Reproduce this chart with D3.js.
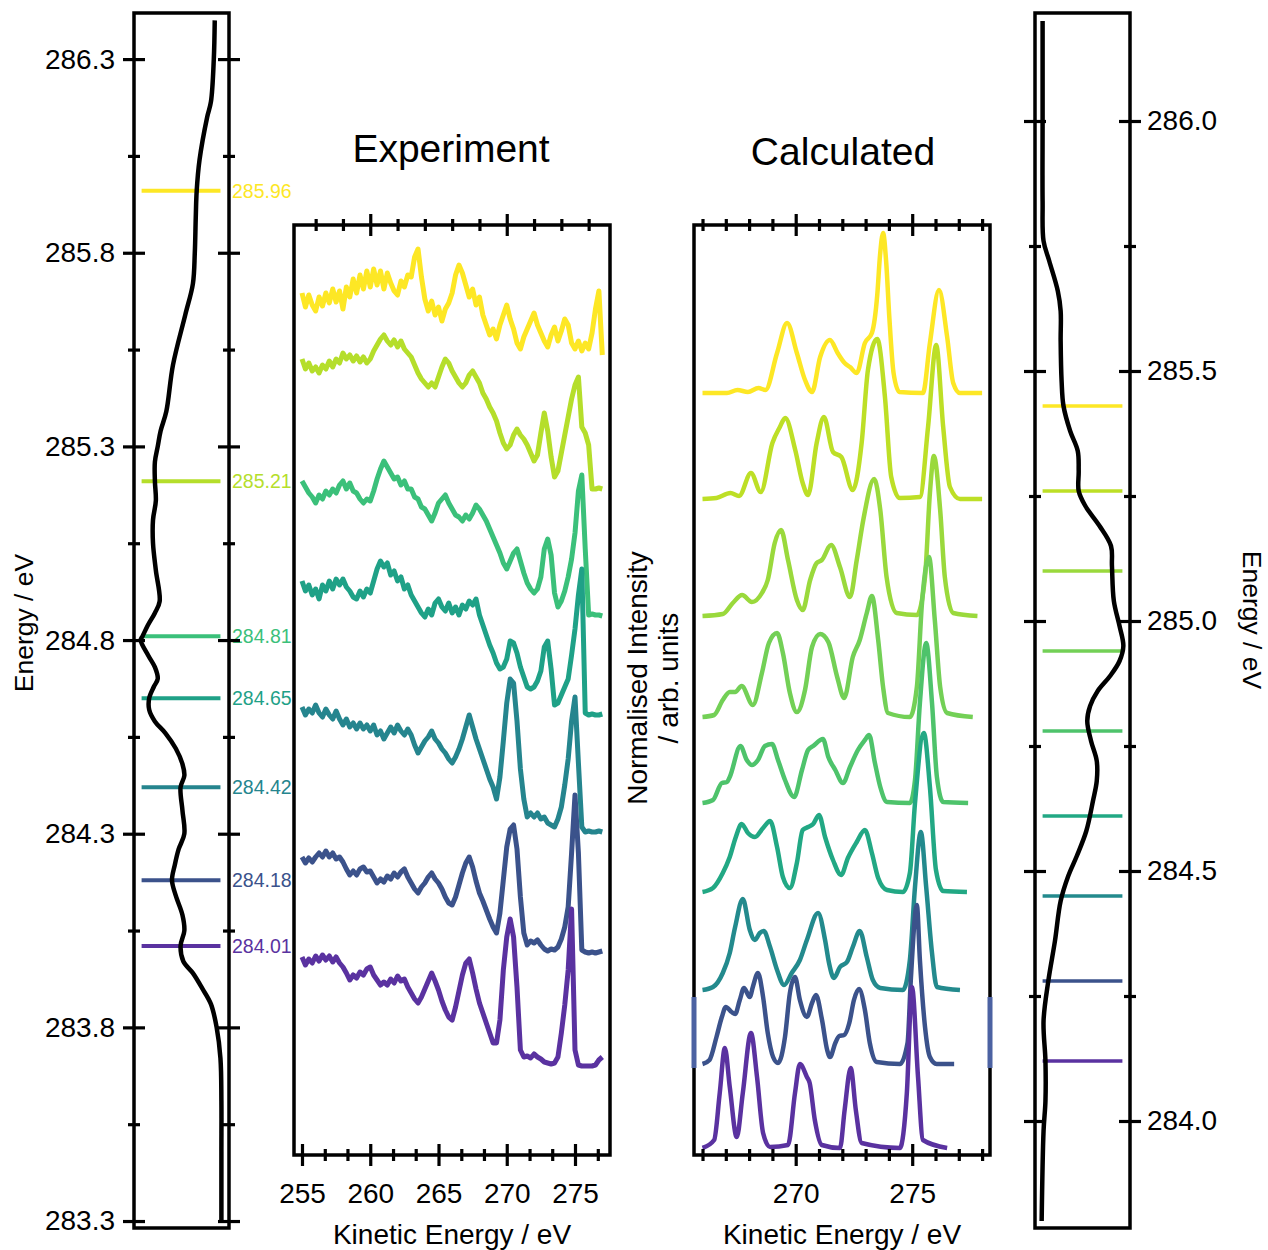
<!DOCTYPE html>
<html>
<head>
<meta charset="utf-8">
<script src="https://cdn.jsdelivr.net/npm/d3@7"></script>
<style>
  body { margin: 0; background: #fff; }
</style>
</head>
<body>
<svg id="fig" width="1268" height="1250"></svg>
<script>
/*************************************************************
 *  Data section.
 *************************************************************/

// Left strip: measured spectrum, [energy eV, normalised intensity]
const leftSpectrum = [
  [286.40,0.85],[286.30,0.84],[286.19,0.81],[286.15,0.77],[286.04,0.69],[285.96,0.66],
  [285.89,0.65],[285.80,0.64],[285.72,0.62],[285.64,0.54],[285.51,0.41],[285.39,0.34],
  [285.34,0.28],[285.30,0.25],[285.26,0.22],[285.21,0.22],[285.16,0.23],[285.11,0.20],
  [285.05,0.20],[284.98,0.23],[284.90,0.27],[284.87,0.22],[284.84,0.15],[284.81,0.09],
  [284.80,0.07],[284.76,0.15],[284.73,0.22],[284.70,0.25],[284.68,0.21],[284.65,0.16],
  [284.62,0.16],[284.59,0.22],[284.56,0.33],[284.52,0.44],[284.48,0.51],[284.45,0.53],
  [284.42,0.49],[284.36,0.51],[284.30,0.53],[284.26,0.47],[284.22,0.43],[284.18,0.40],
  [284.14,0.44],[284.09,0.51],[284.05,0.53],[284.01,0.49],[283.97,0.52],[283.94,0.62],
  [283.90,0.72],[283.86,0.81],[283.80,0.87],[283.72,0.91],[283.61,0.92],[283.48,0.92],
  [283.30,0.92]
];
const leftMarks = [285.96, 285.21, 284.81, 284.65, 284.42, 284.18, 284.01];
const expColors = ["#fde725", "#b5de2b", "#3bc07a", "#1fa187", "#25858e", "#3b528b", "#5a32a0"];

// Experiment: kinetic energy grid of the detector, 0.25 eV steps from 255 eV
const expStart = 255, expStep = 0.25;
const exp28596 = [
  8.62,8.48,8.60,8.50,8.44,8.58,8.49,8.62, 8.52,8.66,8.53,8.64,8.46,8.68,8.58,8.76,
  8.62,8.80,8.66,8.84,8.68,8.86,8.70,8.84, 8.66,8.82,8.72,8.64,8.60,8.74,8.68,8.80,
  8.78,8.98,9.06,8.78,8.56,8.44,8.54,8.40, 8.48,8.34,8.46,8.52,8.62,8.80,8.90,8.82,
  8.70,8.58,8.66,8.50,8.58,8.40,8.30,8.20, 8.26,8.16,8.30,8.40,8.50,8.36,8.26,8.12,
  8.06,8.18,8.26,8.34,8.42,8.30,8.22,8.14, 8.08,8.20,8.28,8.14,8.24,8.36,8.30,8.12,
  8.06,8.14,8.04,8.12,8.06,8.22,8.46,8.64, 8.00
];
const exp28521 = [
  7.96,7.86,7.92,7.84,7.88,7.82,7.90,7.86, 7.94,7.88,7.96,7.92,8.02,7.96,8.00,7.94,
  7.99,7.93,7.98,7.92,7.96,8.04,8.10,8.16, 8.20,8.14,8.10,8.15,8.08,8.14,8.06,8.02,
  7.98,7.90,7.82,7.76,7.72,7.68,7.72,7.68, 7.78,7.88,7.96,7.92,7.84,7.78,7.72,7.68,
  7.72,7.80,7.84,7.78,7.72,7.62,7.56,7.48, 7.42,7.34,7.22,7.12,7.06,7.10,7.20,7.26,
  7.20,7.16,7.10,7.02,6.94,7.00,7.22,7.42, 7.24,6.98,6.78,6.84,7.02,7.20,7.38,7.56,
  7.70,7.78,7.28,7.22,7.10,6.66,6.66,6.67, 6.66
];
const exp28481 = [
  6.74,6.68,6.62,6.58,6.52,6.60,6.56,6.64, 6.60,6.66,6.62,6.70,6.74,6.66,6.72,6.64,
  6.62,6.56,6.52,6.56,6.54,6.64,6.76,6.86, 6.94,6.88,6.82,6.76,6.78,6.70,6.74,6.66,
  6.66,6.58,6.56,6.48,6.46,6.40,6.34,6.42, 6.52,6.56,6.60,6.52,6.46,6.40,6.38,6.34,
  6.40,6.36,6.42,6.50,6.46,6.40,6.34,6.26, 6.18,6.10,6.02,5.92,5.86,5.94,6.02,6.06,
  5.94,5.82,5.72,5.66,5.62,5.66,5.78,6.06, 6.16,6.00,5.62,5.48,5.54,5.64,5.78,5.96,
  6.22,6.64,6.80,6.06,5.40,5.41,5.40,5.40, 5.39
];
const exp28465 = [
  5.74,5.64,5.70,5.60,5.66,5.56,5.70,5.64, 5.74,5.66,5.76,5.70,5.76,5.68,5.64,5.58,
  5.56,5.64,5.58,5.66,5.62,5.74,5.86,5.94, 5.88,5.92,5.80,5.84,5.74,5.78,5.66,5.70,
  5.60,5.54,5.48,5.42,5.38,5.46,5.40,5.52, 5.56,5.48,5.44,5.52,5.42,5.48,5.40,5.50,
  5.46,5.54,5.50,5.56,5.40,5.30,5.20,5.10, 5.02,4.92,4.86,4.88,4.96,5.14,5.12,5.02,
  4.88,4.78,4.68,4.66,4.68,4.74,4.84,5.08, 5.14,4.86,4.50,4.52,4.60,4.68,4.76,5.00,
  5.26,5.60,5.86,4.42,4.40,4.41,4.40,4.40, 4.41
];
const exp28442 = [
  4.48,4.40,4.46,4.42,4.50,4.42,4.38,4.46, 4.40,4.36,4.44,4.36,4.30,4.36,4.28,4.32,
  4.26,4.32,4.26,4.30,4.24,4.30,4.20,4.24, 4.16,4.22,4.28,4.22,4.30,4.24,4.20,4.26,
  4.20,4.10,4.02,4.08,4.14,4.18,4.24,4.16, 4.12,4.06,4.02,3.96,3.92,3.98,4.06,4.16,
  4.28,4.40,4.28,4.16,4.06,3.96,3.86,3.76, 3.68,3.56,3.78,4.14,4.52,4.76,4.72,4.34,
  3.86,3.56,3.38,3.42,3.38,3.42,3.36,3.38, 3.32,3.30,3.28,3.36,3.48,3.70,3.96,4.34,
  4.58,3.92,3.28,3.23,3.24,3.23,3.23,3.24, 3.23
];
const exp28418 = [
  2.98,2.92,2.97,2.93,2.98,3.02,2.98,3.04, 2.98,3.02,2.96,2.98,2.93,2.86,2.80,2.84,
  2.80,2.86,2.88,2.83,2.84,2.78,2.72,2.76, 2.73,2.79,2.76,2.82,2.78,2.83,2.86,2.78,
  2.72,2.66,2.62,2.68,2.72,2.78,2.82,2.76, 2.72,2.66,2.58,2.52,2.50,2.58,2.70,2.82,
  2.92,2.98,2.88,2.74,2.62,2.54,2.45,2.36, 2.28,2.22,2.42,2.75,3.08,3.26,3.30,3.06,
  2.58,2.22,2.10,2.14,2.12,2.15,2.10,2.06, 2.04,2.06,2.05,2.08,2.16,2.28,2.48,3.02,
  3.60,3.02,2.05,2.03,2.02,2.03,2.02,2.03, 2.04
];
const exp28401 = [
  1.98,1.90,1.96,1.92,1.99,1.94,2.00,1.95, 1.99,1.93,1.98,1.92,1.88,1.82,1.75,1.80,
  1.77,1.83,1.80,1.86,1.88,1.80,1.75,1.70, 1.73,1.70,1.76,1.72,1.79,1.74,1.76,1.68,
  1.62,1.56,1.52,1.58,1.66,1.74,1.82,1.74, 1.65,1.54,1.45,1.38,1.35,1.48,1.64,1.80,
  1.92,1.96,1.82,1.66,1.52,1.42,1.32,1.22, 1.12,1.12,1.35,1.85,2.18,2.36,2.18,1.68,
  1.05,0.98,0.99,0.97,1.01,0.98,0.96,0.93, 0.92,0.91,0.92,0.98,1.22,1.50,1.85,2.46,
  1.05,0.90,0.89,0.89,0.89,0.89,0.90,0.95, 0.98
];
const expSeries = [exp28596, exp28521, exp28481, exp28465, exp28442, exp28418, exp28401];

// Calculated: [kinetic energy eV, intensity above the trace's own baseline]
const calc1 = [[266.0,0],[267.05,0],[267.5,0.03],[267.95,0.01],[268.4,0.05],[268.7,0.03],[269.2,0.40],
  [269.63,0.70],[270.05,0.40],[270.4,0.13],[270.7,0.01],[271.05,0.36],[271.47,0.53],[271.8,0.40],
  [272.1,0.30],[272.33,0.26],[272.62,0.20],[272.97,0.50],[273.27,0.60],[273.5,0.98],[273.62,1.38],
  [273.75,1.60],[273.88,1.32],[274.02,0.75],[274.2,0.20],[274.45,0.01],[275.46,0],[275.76,0.50],
  [276.15,1.03],[276.5,0.56],[276.76,0.10],[277.05,0],[278.0,0]];
const calc2 = [[266.0,0],[266.6,0.01],[267.2,0.06],[267.57,0.03],[268.08,0.26],[268.5,0.07],[269.0,0.56],
  [269.32,0.72],[269.55,0.81],[269.98,0.49],[270.3,0.16],[270.53,0.04],[270.9,0.56],[271.21,0.82],
  [271.6,0.47],[271.96,0.42],[272.45,0.09],[272.83,0.56],[273.1,1.29],[273.5,1.60],[273.83,1.02],
  [274.1,0.22],[274.47,0.01],[275.33,0.02],[275.68,0.72],[276.03,1.54],[276.33,0.72],[276.62,0.12],
  [277.05,0],[278.0,0]];
const calc3 = [[266.0,0],[266.87,0.02],[267.3,0.13],[267.7,0.21],[268.12,0.14],[268.55,0.23],[268.8,0.36],
  [269.1,0.73],[269.37,0.86],[269.67,0.56],[270.05,0.16],[270.3,0.06],[270.62,0.36],[270.9,0.53],
  [271.12,0.56],[271.52,0.71],[271.9,0.49],[272.33,0.19],[272.62,0.56],[272.9,0.96],[273.37,1.37],
  [273.63,1.06],[273.9,0.39],[274.33,0.03],[275.2,0.01],[275.55,0.39],[275.76,1.23],[275.93,1.60],
  [276.2,1.06],[276.4,0.39],[276.76,0.03],[277.8,0]];
const calc4 = [[266.0,0],[266.5,0.02],[266.87,0.17],[267.17,0.25],[267.4,0.25],[267.68,0.31],[268.16,0.12],
  [268.55,0.44],[268.85,0.74],[269.2,0.84],[269.45,0.64],[269.75,0.24],[270.05,0.05],[270.4,0.27],
  [270.7,0.70],[271.05,0.83],[271.4,0.75],[271.78,0.40],[272.08,0.19],[272.45,0.60],[272.75,0.77],
  [273.05,1.04],[273.27,1.21],[273.54,0.77],[273.75,0.30],[273.96,0.04],[274.9,0],[275.2,0.30],
  [275.42,1.14],[275.72,1.60],[275.97,0.97],[276.2,0.30],[276.5,0.04],[277.6,0]];
const calc5 = [[266.0,0],[266.45,0.03],[266.83,0.20],[267.05,0.21],[267.17,0.26],[267.63,0.57],[267.9,0.43],
  [268.12,0.38],[268.38,0.43],[268.68,0.57],[268.98,0.59],[269.24,0.43],[269.54,0.23],[269.93,0.06],
  [270.27,0.33],[270.53,0.53],[270.75,0.57],[271.17,0.64],[271.4,0.46],[271.7,0.33],[272.03,0.20],
  [272.33,0.36],[272.67,0.53],[272.97,0.63],[273.15,0.68],[273.4,0.40],[273.63,0.16],[273.92,0.01],
  [274.9,0],[275.12,0.23],[275.33,1.00],[275.6,1.60],[275.85,1.00],[276.06,0.26],[276.33,0.01],[277.4,0]];
const calc6 = [[266.0,0],[266.45,0.04],[266.87,0.19],[267.17,0.35],[267.43,0.55],[267.68,0.68],[267.95,0.59],
  [268.25,0.55],[268.6,0.64],[268.9,0.71],[269.2,0.45],[269.45,0.15],[269.75,0.04],[270.05,0.29],
  [270.3,0.62],[270.53,0.65],[270.75,0.68],[271.0,0.77],[271.26,0.55],[271.6,0.32],[271.95,0.17],
  [272.24,0.34],[272.62,0.50],[272.97,0.62],[273.27,0.39],[273.54,0.14],[273.92,0.02],[274.6,0],
  [274.9,0.19],[275.12,0.89],[275.5,1.59],[275.76,1.05],[276.02,0.22],[276.33,0.01],[277.35,0]];
const calc7 = [[266.0,0],[266.45,0.03],[266.87,0.17],[267.17,0.37],[267.4,0.63],[267.73,0.91],[268.03,0.60],
  [268.25,0.50],[268.46,0.57],[268.63,0.59],[268.9,0.43],[269.2,0.20],[269.5,0.05],[269.83,0.17],
  [270.18,0.30],[270.48,0.50],[270.96,0.77],[271.26,0.50],[271.43,0.27],[271.64,0.12],[271.9,0.23],
  [272.2,0.28],[272.45,0.43],[272.75,0.59],[273.05,0.33],[273.31,0.10],[273.63,0.02],[274.6,0],
  [274.9,0.30],[275.12,1.03],[275.37,1.58],[275.6,1.03],[275.85,0.37],[276.06,0.03],[277.05,0]];
const calc8 = [[266.0,0],[266.3,0.04],[266.6,0.27],[266.83,0.47],[267.0,0.57],[267.25,0.52],[267.4,0.50],
  [267.6,0.64],[267.78,0.76],[268.03,0.67],[268.16,0.77],[268.38,0.91],[268.6,0.67],[268.8,0.31],
  [269.03,0.07],[269.24,0.01],[269.54,0.27],[269.75,0.71],[269.97,0.87],[270.18,0.64],[270.48,0.47],
  [270.7,0.61],[270.87,0.69],[271.13,0.44],[271.35,0.14],[271.47,0.07],[271.7,0.21],[271.87,0.28],
  [272.08,0.29],[272.3,0.41],[272.5,0.64],[272.72,0.75],[272.97,0.54],[273.18,0.21],[273.48,0.02],
  [274.47,0],[274.8,0.21],[274.94,0.84],[275.2,1.59],[275.33,1.04],[275.55,0.37],[275.76,0.07],
  [276.05,0],[276.8,0]];
const calc9 = [[266.0,0],[266.5,0.08],[266.74,0.55],[266.96,1.00],[267.17,0.61],[267.47,0.11],[267.73,0.55],
  [268.08,1.15],[268.34,0.71],[268.6,0.15],[268.9,0.01],[269.67,0.03],[269.97,0.55],[270.18,0.84],
  [270.48,0.71],[270.6,0.65],[270.82,0.28],[271.12,0.03],[271.9,0],[272.1,0.38],[272.36,0.80],
  [272.58,0.38],[272.83,0.05],[274.47,0],[274.77,0.55],[274.99,1.61],[275.25,0.71],[275.46,0.08],
  [276.5,0]];
const calcSeries = [calc1, calc2, calc3, calc4, calc5, calc6, calc7, calc8, calc9];
const calcOffsets = [7.62, 6.56, 5.39, 4.38, 3.52, 2.63, 1.65, 0.91, 0.07];
const calcColors = ["#fde725", "#bddf26", "#9ad93c", "#73d056", "#4ec36b", "#22a884", "#238a8d", "#3b528b", "#5a32a0"];
const calcHighlight = [0.87, 1.58];   // band marked on the frame

// Right strip: calculated spectrum, [energy eV, normalised intensity]
const rightSpectrum = [
  [286.20,0.08],[286.00,0.08],[285.84,0.08],[285.76,0.09],[285.72,0.15],[285.66,0.24],[285.62,0.27],
  [285.56,0.27],[285.48,0.28],[285.43,0.30],[285.38,0.37],[285.34,0.45],[285.30,0.46],[285.26,0.46],
  [285.23,0.53],[285.19,0.68],[285.15,0.80],[285.11,0.81],[285.04,0.83],[284.99,0.89],[284.95,0.93],
  [284.92,0.89],[284.89,0.79],[284.86,0.66],[284.83,0.58],[284.80,0.55],[284.76,0.59],[284.72,0.65],
  [284.68,0.65],[284.64,0.61],[284.58,0.54],[284.53,0.44],[284.49,0.35],[284.44,0.27],[284.36,0.21],
  [284.28,0.14],[284.20,0.09],[284.12,0.11],[284.04,0.11],[283.98,0.09],[283.80,0.07]
];
const rightMarks = [285.43, 285.26, 285.10, 284.94, 284.78, 284.61, 284.45, 284.28, 284.12];

// Tick values
const leftMajor = [283.3, 283.8, 284.3, 284.8, 285.3, 285.8, 286.3];
const leftMinor = [283.55, 284.05, 284.55, 285.05, 285.55, 286.05];
const rightMajor = [284.0, 284.5, 285.0, 285.5, 286.0];
const rightMinor = [284.25, 284.75, 285.25, 285.75];
const expMajorBottom = [255, 260, 265, 270, 275];
const expMinorBottom = [256.67, 258.33, 261.67, 263.33, 266.67, 268.33, 271.67, 273.33, 276.67];
const expMajorTop = [260, 270];
const expMinorTop = [256, 258, 262, 264, 266, 268, 272, 274, 276];
const calcMajor = [270, 275];
const calcMinor = [266, 267, 268, 269, 271, 272, 273, 274, 276, 277, 278];


/*************************************************************
 *  Drawing section.
 *************************************************************/

const FONT = "'Liberation Sans', Arial, Helvetica, sans-serif";
const svg = d3.select("#fig");

// scales (frames of the four panels)
const xLeft = d3.scaleLinear().domain([0, 1]).range([134, 229]);
const yLeft = d3.scaleLinear().domain([283.282, 286.419]).range([1228, 13]);
const xRight = d3.scaleLinear().domain([0, 1]).range([1035, 1130]);
const yRight = d3.scaleLinear().domain([283.786, 286.216]).range([1228, 13]);
const xExp = d3.scaleLinear().domain([254.414, 277.564]).range([294, 610]);
const xCalc = d3.scaleLinear().domain([265.635, 278.339]).range([694, 990]);
const yStack = d3.scaleLinear().domain([0, 9.3]).range([1155, 225]);

/**
 * Ticks that cross the spine (matplotlib "inout" style).
 */
function cross_ticks(g, axis, scale, values, len, fmt, pad){
    g.call(axis(scale)
        .tickValues(values)
        .tickSize(len)
        .tickPadding(pad || 0)
        .tickFormat(fmt || (() => "")))
    g.select(".domain").remove()
    g.attr("font-size", 28).attr("font-family", FONT)
    g.selectAll(".tick line")
        .attr("stroke", "#000")
        .attr("stroke-width", 3.2)
        .each(function(){
            let l = d3.select(this)
            if (l.attr("y2") !== null) l.attr("y1", -l.attr("y2"))
            if (l.attr("x2") !== null) l.attr("x1", -l.attr("x2"))
        })
    g.selectAll(".tick text").attr("fill", "#000")
}

function frame(xs, ys){
    svg.append("rect")
        .attr("x", xs.range()[0]).attr("y", ys.range()[1])
        .attr("width", xs.range()[1] - xs.range()[0])
        .attr("height", ys.range()[0] - ys.range()[1])
        .attr("fill", "none").attr("stroke", "#000").attr("stroke-width", 3.5)
}

function add_text(x, y, txt, size, opts={}){
    let t = svg.append("text")
        .attr("x", x).attr("y", y)
        .attr("font-family", FONT).attr("font-size", size)
        .attr("text-anchor", opts.anchor || "middle")
        .attr("fill", opts.color || "#000")
        .text(txt)
    if (opts.rotate) t.attr("transform", `rotate(${opts.rotate},${x},${y})`)
    return t
}

// ---------- left strip ----------
let gl = svg.append("g")
leftMarks.forEach((e, i) => {
    gl.append("line")
        .attr("x1", xLeft(0.08)).attr("x2", xLeft(0.91))
        .attr("y1", yLeft(e)).attr("y2", yLeft(e))
        .attr("stroke", expColors[i]).attr("stroke-width", 4)
    gl.append("text")
        .attr("x", xLeft(1) + 3).attr("y", yLeft(e)).attr("dy", "0.36em")
        .attr("font-family", FONT).attr("font-size", 19.5)
        .attr("fill", expColors[i])
        .text(d3.format(".2f")(e))
})
let leftLine = d3.line().x(d => xLeft(d[1])).y(d => yLeft(d[0])).curve(d3.curveCatmullRom.alpha(0.5))
gl.append("path").datum(leftSpectrum)
    .attr("d", leftLine)
    .attr("fill", "none").attr("stroke", "#000").attr("stroke-width", 4.5)
frame(xLeft, yLeft)
cross_ticks(svg.append("g").attr("transform", `translate(${xLeft(0)},0)`), d3.axisLeft, yLeft, leftMajor, 11, d3.format(".1f"), 8)
cross_ticks(svg.append("g").attr("transform", `translate(${xLeft(0)},0)`), d3.axisLeft, yLeft, leftMinor, 6)
cross_ticks(svg.append("g").attr("transform", `translate(${xLeft(1)},0)`), d3.axisRight, yLeft, leftMajor, 11)
cross_ticks(svg.append("g").attr("transform", `translate(${xLeft(1)},0)`), d3.axisRight, yLeft, leftMinor, 6)
add_text(33, 623, "Energy / eV", 26.5, {rotate: -90})

// ---------- experiment ----------
let expLine = d3.line()
    .x((d, i) => xExp(expStart + i*expStep))
    .y(d => yStack(d))
let ge = svg.append("g")
expSeries.forEach((s, i) => {
    ge.append("path").datum(s)
        .attr("d", expLine)
        .attr("fill", "none").attr("stroke", expColors[i])
        .attr("stroke-width", 5).attr("stroke-linejoin", "round")
})
frame(xExp, yStack)
cross_ticks(svg.append("g").attr("transform", `translate(0,${yStack(0)})`), d3.axisBottom, xExp, expMajorBottom, 11, d3.format("d"), 17)
cross_ticks(svg.append("g").attr("transform", `translate(0,${yStack(0)})`), d3.axisBottom, xExp, expMinorBottom, 6)
cross_ticks(svg.append("g").attr("transform", `translate(0,${yStack(9.3)})`), d3.axisTop, xExp, expMajorTop, 11)
cross_ticks(svg.append("g").attr("transform", `translate(0,${yStack(9.3)})`), d3.axisTop, xExp, expMinorTop, 6)
add_text(451, 162, "Experiment", 39)
add_text(452, 1244, "Kinetic Energy / eV", 28)

// ---------- calculated ----------
let calcLineFor = off => d3.line()
    .x(d => xCalc(d[0]))
    .y(d => yStack(off + d[1]))
    .curve(d3.curveMonotoneX)
let gc = svg.append("g")
calcSeries.forEach((s, i) => {
    gc.append("path").datum(s)
        .attr("d", calcLineFor(calcOffsets[i]))
        .attr("fill", "none").attr("stroke", calcColors[i])
        .attr("stroke-width", 4.5).attr("stroke-linejoin", "round")
})
frame(xCalc, yStack)
cross_ticks(svg.append("g").attr("transform", `translate(0,${yStack(0)})`), d3.axisBottom, xCalc, calcMajor, 11, d3.format("d"), 17)
cross_ticks(svg.append("g").attr("transform", `translate(0,${yStack(0)})`), d3.axisBottom, xCalc, calcMinor, 6)
cross_ticks(svg.append("g").attr("transform", `translate(0,${yStack(9.3)})`), d3.axisTop, xCalc, calcMajor, 11)
cross_ticks(svg.append("g").attr("transform", `translate(0,${yStack(9.3)})`), d3.axisTop, xCalc, calcMinor, 6)
// highlighted band on the frame
xCalc.range().forEach(x => {
    svg.append("rect")
        .attr("x", x - 2.5).attr("width", 5)
        .attr("y", yStack(calcHighlight[1]))
        .attr("height", yStack(calcHighlight[0]) - yStack(calcHighlight[1]))
        .attr("fill", "#4c62a2")
})
add_text(843, 165, "Calculated", 39)
add_text(842, 1244, "Kinetic Energy / eV", 28)
add_text(647, 678, "Normalised Intensity", 28, {rotate: -90})
add_text(678, 678, "/ arb. units", 28, {rotate: -90})

// ---------- right strip ----------
let gr = svg.append("g")
rightMarks.forEach((e, i) => {
    gr.append("line")
        .attr("x1", xRight(0.08)).attr("x2", xRight(0.92))
        .attr("y1", yRight(e)).attr("y2", yRight(e))
        .attr("stroke", calcColors[i]).attr("stroke-width", 3.5)
})
gr.append("path").datum(rightSpectrum)
    .attr("d", d3.line().x(d => xRight(d[1])).y(d => yRight(d[0])).curve(d3.curveCatmullRom.alpha(0.5)))
    .attr("fill", "none").attr("stroke", "#000").attr("stroke-width", 4.5)
frame(xRight, yRight)
cross_ticks(svg.append("g").attr("transform", `translate(${xRight(0)},0)`), d3.axisLeft, yRight, rightMajor, 11)
cross_ticks(svg.append("g").attr("transform", `translate(${xRight(0)},0)`), d3.axisLeft, yRight, rightMinor, 6)
cross_ticks(svg.append("g").attr("transform", `translate(${xRight(1)},0)`), d3.axisRight, yRight, rightMajor, 11, d3.format(".1f"), 6)
cross_ticks(svg.append("g").attr("transform", `translate(${xRight(1)},0)`), d3.axisRight, yRight, rightMinor, 6)
add_text(1243, 620, "Energy / eV", 26.5, {rotate: 90})
</script>
</body>
</html>
